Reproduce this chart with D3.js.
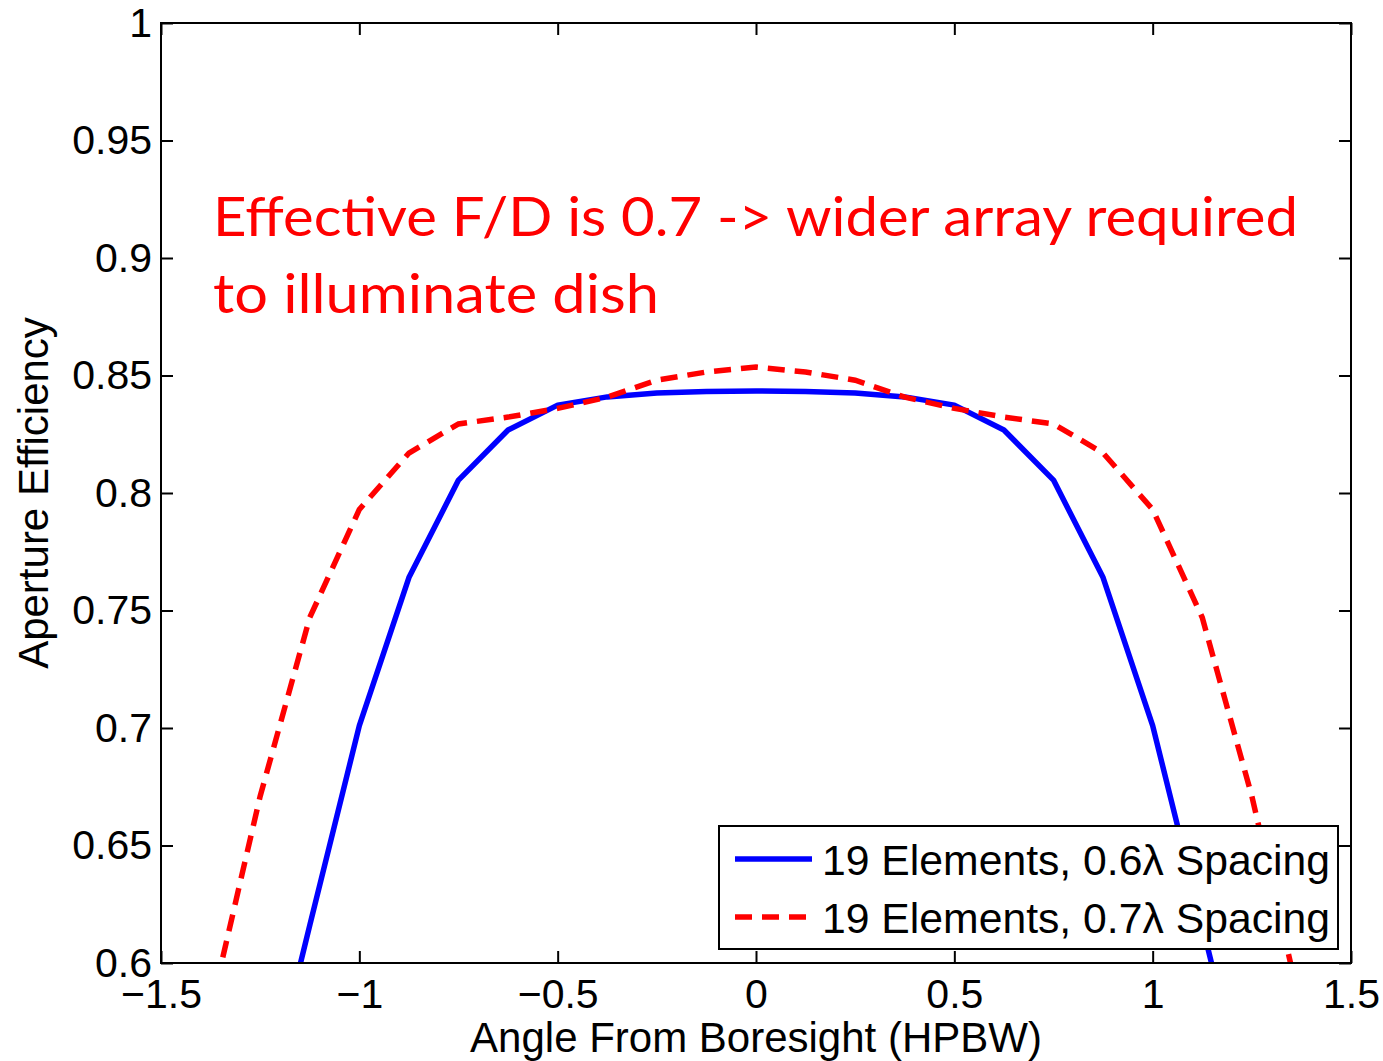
<!DOCTYPE html>
<html>
<head>
<meta charset="utf-8">
<script src="https://cdn.jsdelivr.net/npm/d3@7"></script>
<style>
  body { margin: 0; background: #fff; }
</style>
</head>
<body>
<svg id="chart" width="1383" height="1061" font-family="Liberation Sans, Arial, sans-serif"></svg>
<script>
// angle from boresight (HPBW)
var angles = [-1.375, -1.25, -1.125, -1, -0.875, -0.75, -0.625, -0.5, -0.375, -0.25, -0.125, 0,
  0.125, 0.25, 0.375, 0.5, 0.625, 0.75, 0.875, 1, 1.125, 1.25, 1.375];
// 19 elements, 0.6 lambda spacing
var eff06 = [0.45, 0.53, 0.616, 0.701, 0.764, 0.8055, 0.8268, 0.8374, 0.8409, 0.8426, 0.8432, 0.8434,
  0.8432, 0.8426, 0.8409, 0.8374, 0.8268, 0.8055, 0.764, 0.701, 0.616, 0.53, 0.45];
// 19 elements, 0.7 lambda spacing
var eff07 = [0.58, 0.671, 0.747, 0.793, 0.817, 0.8294, 0.8323, 0.836, 0.8408, 0.848, 0.8515, 0.8536,
  0.8515, 0.848, 0.8408, 0.836, 0.8323, 0.8294, 0.817, 0.793, 0.747, 0.671, 0.58];
var xTicks = [-1.5, -1, -0.5, 0, 0.5, 1, 1.5];
var yTicks = [0.6, 0.65, 0.7, 0.75, 0.8, 0.85, 0.9, 0.95, 1];
var seriesNames = ["19 Elements, 0.6\u03bb Spacing", "19 Elements, 0.7\u03bb Spacing"];

var svg = d3.select("#chart");
var plotLeft = 161, plotRight = 1351, plotTop = 23, plotBottom = 963;

var x = d3.scaleLinear().domain([-1.5, 1.5]).range([plotLeft, plotRight]);
var y = d3.scaleLinear().domain([0.6, 1]).range([plotBottom, plotTop]);

svg.append("clipPath").attr("id", "clip")
  .append("rect")
  .attr("x", plotLeft).attr("y", plotTop)
  .attr("width", plotRight - plotLeft).attr("height", plotBottom - plotTop);

var line = d3.line()
  .x(function(d) { return x(d[0]); })
  .y(function(d) { return y(d[1]); });

var plot = svg.append("g").attr("clip-path", "url(#clip)");

plot.append("path")
  .datum(angles.map(function(a, i) { return [a, eff06[i]]; }))
  .attr("d", line)
  .attr("fill", "none")
  .attr("stroke", "#0000ff")
  .attr("stroke-width", 5.5)
  .attr("stroke-linejoin", "round");

plot.append("path")
  .datum(angles.map(function(a, i) { return [a, eff07[i]]; }))
  .attr("d", line)
  .attr("fill", "none")
  .attr("stroke", "#ff0000")
  .attr("stroke-width", 5.5)
  .attr("stroke-dasharray", "17,10");

// axes (ticks inside, mirrored on all sides)
var tickLen = 12;
var fmt = function(d) { return d3.format("")(d).replace("-", "\u2212"); };

svg.append("g")
  .attr("transform", "translate(0," + plotBottom + ")")
  .call(d3.axisBottom(x).tickValues(xTicks).tickSize(-tickLen).tickPadding(16).tickFormat(fmt))
  .call(function(g) {
    g.select(".domain").remove();
    g.selectAll("text").attr("font-size", 41).attr("fill", "#000")
      .attr("font-family", "Liberation Sans, Arial, sans-serif");
  });

svg.append("g")
  .attr("transform", "translate(0," + plotTop + ")")
  .call(d3.axisTop(x).tickValues(xTicks).tickSize(-tickLen).tickFormat(""))
  .call(function(g) { g.select(".domain").remove(); });

svg.append("g")
  .attr("transform", "translate(" + plotLeft + ",0)")
  .call(d3.axisLeft(y).tickValues(yTicks).tickSize(-tickLen).tickPadding(9).tickFormat(d3.format("")))
  .call(function(g) {
    g.select(".domain").remove();
    g.selectAll("text").attr("font-size", 41).attr("fill", "#000")
      .attr("font-family", "Liberation Sans, Arial, sans-serif");
  });

svg.append("g")
  .attr("transform", "translate(" + plotRight + ",0)")
  .call(d3.axisRight(y).tickValues(yTicks).tickSize(-tickLen).tickFormat(""))
  .call(function(g) { g.select(".domain").remove(); });

svg.selectAll(".tick line").attr("stroke", "#000").attr("stroke-width", 2);

svg.append("rect")
  .attr("x", plotLeft).attr("y", plotTop)
  .attr("width", plotRight - plotLeft).attr("height", plotBottom - plotTop)
  .attr("fill", "none").attr("stroke", "#000").attr("stroke-width", 2);

// axis labels
svg.append("text")
  .attr("x", (plotLeft + plotRight) / 2).attr("y", 1052)
  .attr("text-anchor", "middle").attr("font-size", 42)
  .text("Angle From Boresight (HPBW)");

svg.append("text")
  .attr("transform", "translate(48," + (plotTop + plotBottom) / 2 + ") rotate(-90)")
  .attr("text-anchor", "middle").attr("font-size", 42)
  .text("Aperture Efficiency");

// annotation
var note = svg.append("g").attr("fill", "#ff0000")
  .attr("font-family", "Lato, 'Open Sans', sans-serif").attr("font-size", 54);
note.append("text").attr("x", 213).attr("y", 236)
  .attr("textLength", 1085).attr("lengthAdjust", "spacingAndGlyphs")
  .text("Effective F/D is 0.7 -> wider array required");
note.append("text").attr("x", 213).attr("y", 313)
  .attr("textLength", 446).attr("lengthAdjust", "spacingAndGlyphs")
  .text("to illuminate dish");

// legend
var legend = svg.append("g");
legend.append("rect")
  .attr("x", 719).attr("y", 826).attr("width", 619).attr("height", 123)
  .attr("fill", "#fff").attr("stroke", "#000").attr("stroke-width", 2);

var legendRows = [
  { name: seriesNames[0], color: "#0000ff", dash: null, y: 859 },
  { name: seriesNames[1], color: "#ff0000", dash: "17,10", y: 917 }
];
legendRows.forEach(function(r) {
  legend.append("line")
    .attr("x1", 735).attr("x2", 812).attr("y1", r.y).attr("y2", r.y)
    .attr("stroke", r.color).attr("stroke-width", 5.5)
    .attr("stroke-dasharray", r.dash);
  legend.append("text")
    .attr("x", 822).attr("y", r.y + 16)
    .attr("font-size", 42)
    .attr("textLength", 508).attr("lengthAdjust", "spacingAndGlyphs")
    .text(r.name);
});
</script>
</body>
</html>
